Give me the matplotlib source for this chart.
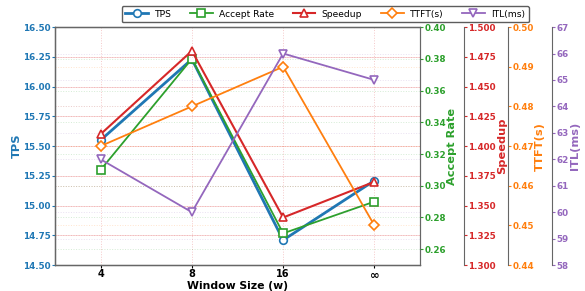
import matplotlib
matplotlib.use('Agg')
import matplotlib.pyplot as plt
from matplotlib.ticker import FormatStrFormatter

windows = ['4', '8', '16', '∞']
tps = [15.55, 16.23, 14.71, 15.21]
accept_rate = [0.31, 0.38, 0.27, 0.29]
speedup = [1.41, 1.48, 1.34, 1.37]
ttft = [0.47, 0.48, 0.49, 0.45]
itl = [62.0, 60.0, 66.0, 65.0]

c_tps = '#1f77b4'
c_acc = '#2ca02c'
c_spd = '#d62728'
c_ttft = '#ff7f0e'
c_itl = '#9467bd'

x = list(range(len(windows)))

fig = plt.figure(figsize=(5.85, 2.91), dpi=100)
ax = fig.add_axes([0.094, 0.089, 0.624, 0.818])
ax2 = ax.twinx()
ax3 = ax.twinx()
ax4 = ax.twinx()
ax5 = ax.twinx()
ax3.spines['right'].set_position(('axes', 1.121))
ax4.spines['right'].set_position(('axes', 1.241))
ax5.spines['right'].set_position(('axes', 1.362))

mk = dict(markerfacecolor='white', markersize=5.5, markeredgewidth=1.2)
l1, = ax.plot(x, tps, '-o', color=c_tps, lw=2, label='TPS', **mk)
l2, = ax2.plot(x, accept_rate, '-s', color=c_acc, lw=1.3, label='Accept Rate', **mk)
l3, = ax3.plot(x, speedup, '-^', color=c_spd, lw=1.5, label='Speedup', **mk)
l4, = ax4.plot(x, ttft, '-D', color=c_ttft, lw=1.3, label='TTFT(s)', **mk)
l5, = ax5.plot(x, itl, '-v', color=c_itl, lw=1.3, label='ITL(ms)', **mk)

ax.set_xlim(-0.5, 3.5)
ax.set_xticks(x)
ax.set_xticklabels(windows, fontweight='bold', fontsize=7)
ax.get_xticklabels()[-1].set_fontsize(8.5)
ax.set_xlabel('Window Size (w)', fontweight='bold', fontsize=7.8)
ax.xaxis.set_label_coords(0.5, -0.068)

ax.set_ylim(14.5, 16.5)
ax.set_yticks([14.5, 14.75, 15.0, 15.25, 15.5, 15.75, 16.0, 16.25, 16.5])
ax.yaxis.set_major_formatter(FormatStrFormatter('%.2f'))
ax2.set_ylim(0.25, 0.40)
ax2.set_yticks([0.26, 0.28, 0.30, 0.32, 0.34, 0.36, 0.38, 0.40])
ax2.yaxis.set_major_formatter(FormatStrFormatter('%.2f'))
ax3.set_ylim(1.30, 1.50)
ax3.set_yticks([1.300, 1.325, 1.350, 1.375, 1.400, 1.425, 1.450, 1.475, 1.500])
ax3.yaxis.set_major_formatter(FormatStrFormatter('%.3f'))
ax4.set_ylim(0.44, 0.50)
ax4.set_yticks([0.44, 0.45, 0.46, 0.47, 0.48, 0.49, 0.50])
ax4.yaxis.set_major_formatter(FormatStrFormatter('%.2f'))
ax5.set_ylim(58, 67)
ax5.set_yticks(range(58, 68))

for a, c, name in [(ax, c_tps, 'TPS'), (ax2, c_acc, 'Accept Rate'),
                   (ax3, c_spd, 'Speedup'), (ax4, c_ttft, 'TTFT(s)'),
                   (ax5, c_itl, 'ITL(ms)')]:
    a.set_ylabel(name, color=c, fontweight='bold', fontsize=8.2, labelpad=1)
    a.tick_params(axis='y', colors=c, labelsize=6.3, length=2, pad=1)
    for lab in a.get_yticklabels():
        lab.set_fontweight('bold')
    a.grid(axis='y', color=c, alpha=0.2, linestyle=':', lw=0.7)
    for s in a.spines.values():
        s.set_color('#666666')

ax.tick_params(axis='x', length=2, pad=1)
ax.grid(axis='x', color=c_spd, alpha=0.25, linestyle=':', lw=0.7)
ax.grid(axis='y', color=c_spd, alpha=0.2, linestyle='-', lw=0.6)

fig.legend(handles=[l1, l2, l3, l4, l5], loc='upper center',
           bbox_to_anchor=(0.556, 0.995), ncol=5, fontsize=6.6, frameon=True,
           edgecolor='#333333', fancybox=True, handlelength=2.5,
           columnspacing=2.0, borderpad=0.4, handletextpad=0.7)

fig.savefig('out.png', dpi=100)
